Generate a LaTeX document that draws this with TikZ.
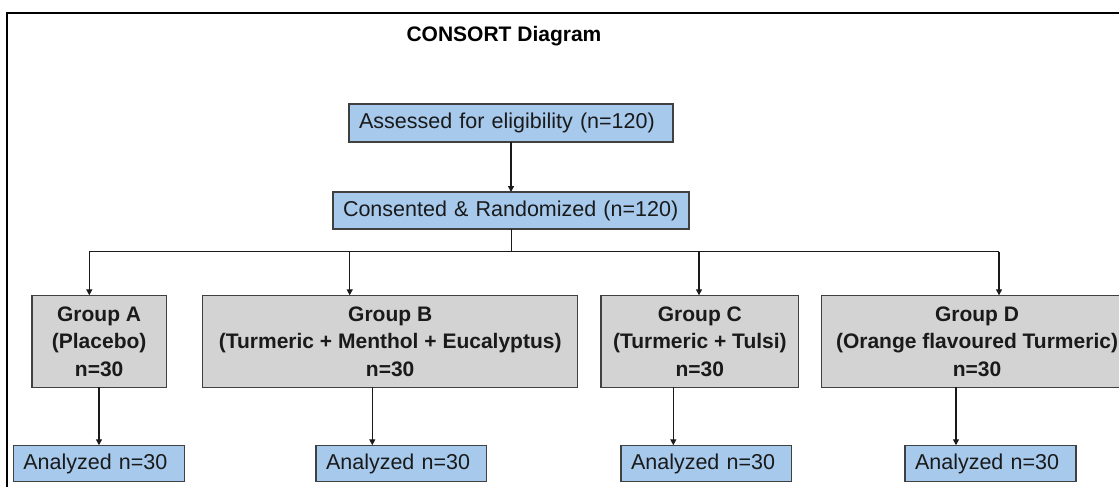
\documentclass[tikz,border=0pt]{standalone}
\usepackage{fontspec}
\setmainfont{Liberation Sans}
\usetikzlibrary{arrows.meta}

\definecolor{stepblue}{RGB}{166,201,236}
\definecolor{groupgray}{RGB}{211,211,211}
\definecolor{edgegray}{RGB}{64,64,64}
\definecolor{inkblack}{RGB}{26,26,26}

\tikzset{
  bluebox/.style={draw=edgegray, line width=1.3pt, fill=stepblue, rectangle,
    inner xsep=10pt, inner ysep=0pt, outer sep=0pt, align=left,
    text=inkblack, font=\fontsize{21.5}{26}\selectfont},
  groupbox/.style={draw=edgegray, line width=1.3pt, fill=groupgray, rectangle,
    inner sep=0pt, outer sep=0pt, align=center,
    text=inkblack, font=\fontsize{21}{27.5}\selectfont\bfseries},
  link/.style={draw=inkblack, line width=1.3pt},
  arr/.style={link, -{Triangle[length=6pt,width=6pt]}},
  frameline/.style={draw=black, line width=2pt}
}

\begin{document}
\begin{tikzpicture}[x=1pt, y=-1pt]
  \useasboundingbox (0,0) rectangle (1119,487);
  \clip (0,0) rectangle (1119,487);

  % outer frame, running off the page to the right and bottom
  \draw[frameline] (7.3,500) -- (7.3,13.3) -- (1140,13.3);

  % title
  \node[anchor=base, inner sep=0pt, text=black,
        font=\fontsize{21}{25}\selectfont\bfseries] (title) at (504,41.7) {CONSORT Diagram};

  % enrolment
  \node[bluebox, text width=304pt, minimum height=38pt] (assess) at (511,123)
    {\mbox{Assessed for eligibility (n=120)}};
  \node[bluebox, text width=336pt, minimum height=37pt] (rand) at (511,210.5)
    {\mbox{Consented \& Randomized (n=120)}};

  % allocation
  \node[groupbox, minimum width=134.3pt, minimum height=92pt] (gA) at (99.15,341.3)
    {Group A\\(Placebo)\\n=30};
  \node[groupbox, minimum width=375pt, minimum height=92pt] (gB) at (390.2,341.3)
    {Group B\\(Turmeric + Menthol + Eucalyptus)\\n=30};
  \node[groupbox, minimum width=197.7pt, minimum height=92pt] (gC) at (699.85,341.3)
    {Group C\\(Turmeric + Tulsi)\\n=30};
  \node[groupbox, minimum width=310.6pt, minimum height=92pt] (gD) at (977,341.3)
    {Group D\\(Orange flavoured Turmeric)\\n=30};

  % analysis
  \node[bluebox, text width=151pt, minimum height=36.5pt] (aA) at (98.8,463.5) {\mbox{Analyzed n=30}};
  \node[bluebox, text width=150.7pt, minimum height=36.5pt] (aB) at (401.35,463.5) {\mbox{Analyzed n=30}};
  \node[bluebox, text width=150.7pt, minimum height=36.5pt] (aC) at (706.35,463.5) {\mbox{Analyzed n=30}};
  \node[bluebox, text width=151pt, minimum height=36.5pt] (aD) at (990.5,463.5) {\mbox{Analyzed n=30}};

  % branching bus
  \coordinate (hub) at (511.7,251.5);
  \coordinate (busA) at (89.3,251.5);
  \coordinate (busB) at (349.7,251.5);
  \coordinate (busC) at (699,251.5);
  \coordinate (busD) at (999,251.5);

  % columns of the downward connectors
  \coordinate (colA) at (99,0);
  \coordinate (colB) at (372.3,0);
  \coordinate (colC) at (673.3,0);
  \coordinate (colD) at (956,0);

  \draw[arr] (assess.south) -- (rand.south |- assess.south) -- (rand.north);
  \draw[link] (rand.south -| hub) -- (hub);
  \draw[link] (busA) -- (busD);
  \draw[arr] (busA) -- (busA |- gA.north);
  \draw[arr] (busB) -- (busB |- gB.north);
  \draw[arr] (busC) -- (busC |- gC.north);
  \draw[arr] (busD) -- (busD |- gD.north);

  \draw[arr] (gA.south -| colA) -- (aA.north -| colA);
  \draw[arr] (gB.south -| colB) -- (aB.north -| colB);
  \draw[arr] (gC.south -| colC) -- (aC.north -| colC);
  \draw[arr] (gD.south -| colD) -- (aD.north -| colD);
\end{tikzpicture}
\end{document}
